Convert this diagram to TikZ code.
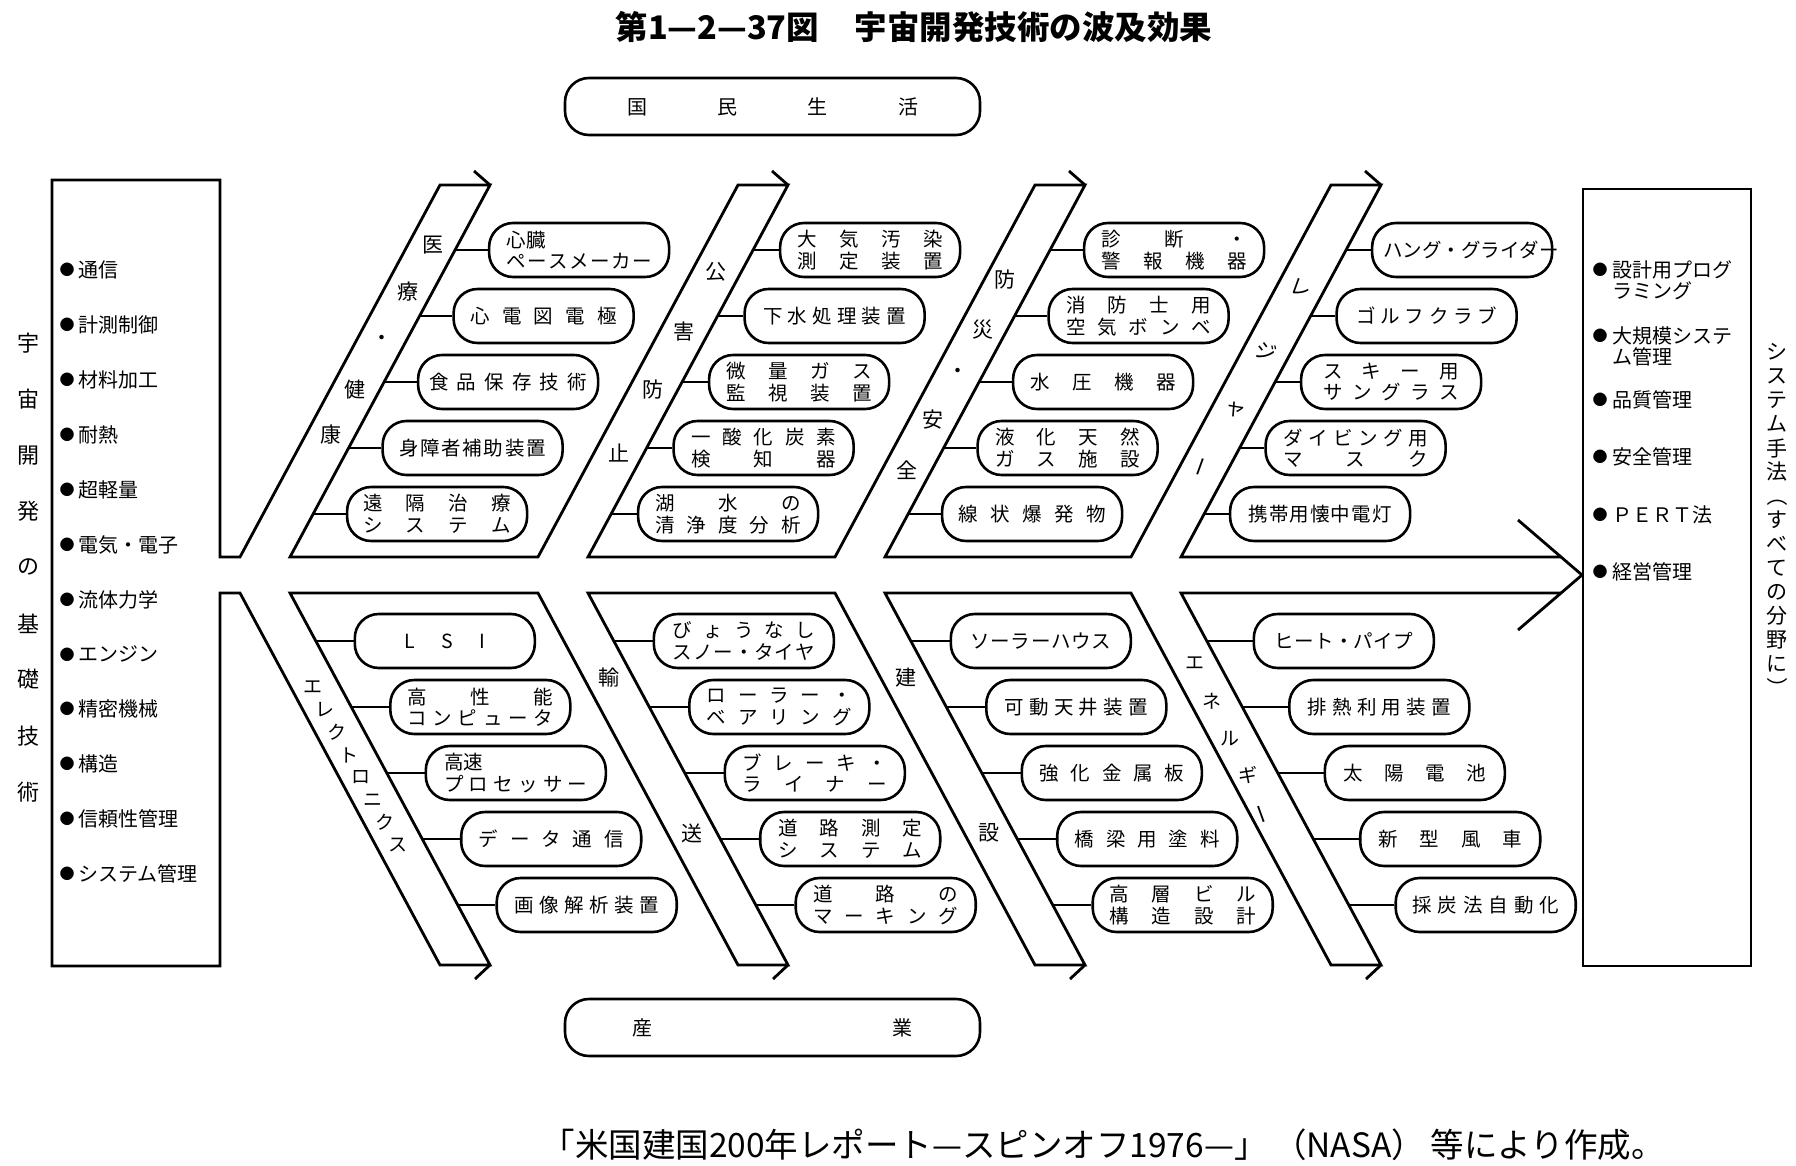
\documentclass[tikz,border=0pt]{standalone}
\usepackage{fontspec}
\setmainfont{Noto Sans CJK JP}
\makeatletter
\def\spr@in#1{\ifx#1\relax\else\hfill#1\expandafter\spr@in\fi}
\def\spr@first#1{#1\spr@in}
\newcommand\SP[2]{\makebox[#1][s]{\spr@first#2\relax}}
\makeatother
\begin{document}
\begin{tikzpicture}[x=1pt,y=-1pt]
\tikzset{
 band/.style={line width=2.8pt, line join=miter},
 itembox/.style={draw, line width=2.6pt, rounded corners=24pt, minimum width=180pt, minimum height=54pt, inner sep=0pt, align=center, font=\fontsize{19.5}{21.5}\selectfont},
 conn/.style={line width=2.6pt},
 lbl/.style={inner sep=0pt, font=\fontsize{21}{21}\selectfont},
 kl/.style={inner sep=0pt, font=\fontsize{19}{19}\selectfont},
 ku/.style={lbl, rotate=-20},
 bl/.style={inner sep=0pt, font=\fontsize{15}{15}\selectfont},
 tx/.style={anchor=west, inner sep=0pt, font=\fontsize{20}{21}\selectfont},
 vt/.style={inner sep=0pt, font=\fontsize{22}{22}\selectfont},
 pill/.style={draw, line width=2.6pt, rounded corners=24pt, minimum width=415pt, minimum height=57pt, inner sep=0pt, font=\fontsize{20}{20}\selectfont}
}
\useasboundingbox (0,0) rectangle (1796,1166);

% title
\node[inner sep=0pt, font=\bfseries\fontsize{32.5}{32.5}\selectfont] (title) at (914,27) {第1—2—37図\hspace{1.1em}宇宙開発技術の波及効果};

% top / bottom pills
\node[pill] (life) at (772.5,106.5) {\SP{291pt}{国民生活}};
\node[pill] (ind) at (772.5,1027.5) {\SP{280pt}{産業}};

% main skeleton
\draw[band] (1561,557) -- (1181,557) -- (1381,185) -- (1331,185) -- (1131,557)
 -- (885,557) -- (1085,185) -- (1035,185) -- (835,557)
 -- (588,557) -- (788,185) -- (738,185) -- (538,557)
 -- (290,557) -- (490,185) -- (440,185) -- (240,557)
 -- (220,557) -- (220,180) -- (52,180) -- (52,966) -- (220,966) -- (220,593)
 -- (240,593) -- (440,965) -- (490,965) -- (290,593)
 -- (538,593) -- (738,965) -- (788,965) -- (588,593)
 -- (835,593) -- (1035,965) -- (1085,965) -- (885,593)
 -- (1131,593) -- (1331,965) -- (1381,965) -- (1181,593) -- (1561,593);
% arrow strokes
\foreach \t in {490,788,1085,1381}{
 \draw[band] (\t,185) -- ++(-16,-14);
 \draw[band] (\t,965) -- ++(-15,14);
}
\draw[band] (1518,520) -- (1582,575) -- (1518,630);
% right box
\draw[band] (1583,189) rectangle (1751,966);

% left box contents
\foreach \c [count=\i from 0] in {宇,宙,開,発,の,基,礎,技,術}{
 \node[vt] (lv\i) at (28,343+56.1*\i) {\c};
}
\foreach \c [count=\i from 0] in {通信,計測制御,材料加工,耐熱,超軽量,電気・電子,流体力学,エンジン,精密機械,構造,信頼性管理,システム管理}{
 \node[bl] (lb\i) at (67,270+54.9*\i) {●};
 \node[tx] (lt\i) at (78,270+54.9*\i) {\c};
}

% right box contents
\node[bl] (rb1) at (1600,270) {●};
\node[tx] (rt1) at (1612,270) {設計用プログ};
\node[tx] (rt1b) at (1612,291) {ラミング};
\node[bl] (rb2) at (1600,336) {●};
\node[tx] (rt2) at (1612,336) {大規模システ};
\node[tx] (rt2b) at (1612,357) {ム管理};
\node[bl] (rb3) at (1600,400) {●};
\node[tx] (rt3) at (1612,400) {品質管理};
\node[bl] (rb4) at (1600,457) {●};
\node[tx] (rt4) at (1612,457) {安全管理};
\node[bl] (rb5) at (1600,515) {●};
\node[tx] (rt5) at (1612,515) {ＰＥＲＴ法};
\node[bl] (rb6) at (1600,572) {●};
\node[tx] (rt6) at (1612,572) {経営管理};
\foreach \c [count=\i from 0] in {シ,ス,テ,ム,手,法,{\rotatebox{-90}{（}},す,べ,て,の,分,野,に,{\rotatebox{-90}{）}}}{
 \node[inner sep=0pt, font=\fontsize{21}{21}\selectfont] (rv\i) at (1777,352+24*\i) {\c};
}

% band labels upper
\node[lbl] (l1a) at (432.7,245) {医};
\node[lbl] (l1b) at (407.5,292) {療};
\node[lbl] (l1c) at (381.7,340) {・};
\node[lbl] (l1d) at (354.8,390) {健};
\node[lbl] (l1e) at (330.6,435) {康};
\node[lbl] (l2a) at (716.2,272) {公};
\node[lbl] (l2b) at (684.0,332) {害};
\node[lbl] (l2c) at (652.8,390) {防};
\node[lbl] (l2d) at (618.9,453) {止};
\node[lbl] (l3a) at (1005,280) {防};
\node[lbl] (l3b) at (983,330) {災};
\node[lbl] (l3c) at (958,373) {・};
\node[lbl] (l3d) at (933,420) {安};
\node[lbl] (l3e) at (907,470) {全};
\node[ku] (l4a) at (1300.6,288) {レ};
\node[ku] (l4b) at (1266.2,352) {ジ};
\node[ku] (l4c) at (1235.0,410) {ャ};
\node[lbl, rotate=70] (l4d) at (1203.9,468) {ー};
% band labels lower
\foreach \c/\x/\y [count=\i] in {エ/312.5/687,レ/324.9/710,ク/336.7/732,ト/349.1/755,ロ/360.9/777,ニ/373.3/800,ク/385.1/822,ス/397.5/845}{
 \node[kl] (l5\i) at (\x,\y) {\c};
}
\node[lbl] (l6a) at (608.7,678) {輸};
\node[lbl] (l6b) at (692.0,833) {送};
\node[lbl] (l7a) at (905.7,678) {建};
\node[lbl] (l7b) at (989.0,833) {設};
\node[kl] (l8a) at (1195,663) {エ};
\node[kl] (l8b) at (1212,701) {ネ};
\node[kl] (l8c) at (1230,739) {ル};
\node[kl] (l8d) at (1248,775) {ギ};
\node[lbl, rotate=110] (l8e) at (1265,813) {ー};

% ===== band 1
\node[itembox] (n11) at (579.1,250) {\makebox[145pt][l]{心臓}\\\SP{145pt}{ペースメーカー}};
\node[itembox] (n12) at (543.6,316) {\SP{146pt}{心電図電極}};
\node[itembox] (n13) at (508.1,382) {\SP{158pt}{食品保存技術}};
\node[itembox] (n14) at (472.6,448) {\SP{146pt}{身障者補助装置}};
\node[itembox] (n15) at (437.1,514) {\SP{148pt}{遠隔治療}\\\SP{148pt}{システム}};
% ===== band 2
\node[itembox] (n21) at (870.1,250) {\SP{145pt}{大気汚染}\\\SP{145pt}{測定装置}};
\node[itembox] (n22) at (834.6,316) {\SP{143pt}{下水処理装置}};
\node[itembox] (n23) at (799.1,382) {\SP{145pt}{微量ガス}\\\SP{145pt}{監視装置}};
\node[itembox] (n24) at (763.6,448) {\SP{145pt}{一酸化炭素}\\\SP{145pt}{検知器}};
\node[itembox] (n25) at (728.1,514) {\SP{146pt}{湖水の}\\\SP{146pt}{清浄度分析}};
% ===== band 3
\node[itembox] (n31) at (1174.1,250) {\SP{145pt}{診断・}\\\SP{145pt}{警報機器}};
\node[itembox] (n32) at (1138.6,316) {\SP{145pt}{消防士用}\\\SP{145pt}{空気ボンベ}};
\node[itembox] (n33) at (1103.1,382) {\SP{146pt}{水圧機器}};
\node[itembox] (n34) at (1067.6,448) {\SP{145pt}{液化天然}\\\SP{145pt}{ガス施設}};
\node[itembox] (n35) at (1032.1,514) {\SP{147pt}{線状爆発物}};
% ===== band 4
\node[itembox] (n41) at (1462.1,250) {\SP{158pt}{ハング・グライダー}};
\node[itembox] (n42) at (1426.6,316) {\SP{141pt}{ゴルフクラブ}};
\node[itembox] (n43) at (1391.1,382) {\SP{136pt}{スキー用}\\\SP{136pt}{サングラス}};
\node[itembox] (n44) at (1355.6,448) {\SP{145pt}{ダイビング用}\\\SP{145pt}{マスク}};
\node[itembox] (n45) at (1320.1,514) {\SP{143pt}{携帯用懐中電灯}};
% ===== band 5
\node[itembox] (n51) at (444.8,641) {\SP{80pt}{LSI}};
\node[itembox] (n52) at (480.3,707) {\SP{145pt}{高性能}\\\SP{145pt}{コンピュータ}};
\node[itembox] (n53) at (515.8,773) {\makebox[143pt][l]{高速}\\\SP{143pt}{プロセッサー}};
\node[itembox] (n54) at (551.2,839) {\SP{145pt}{データ通信}};
\node[itembox] (n55) at (586.7,905) {\SP{144pt}{画像解析装置}};
% ===== band 6
\node[itembox] (n61) at (743.8,641) {\SP{142pt}{びょうなし}\\\SP{142pt}{スノー・タイヤ}};
\node[itembox] (n62) at (779.3,707) {\SP{145pt}{ローラー・}\\\SP{145pt}{ベアリング}};
\node[itembox] (n63) at (814.8,773) {\SP{145pt}{ブレーキ・}\\\SP{145pt}{ライナー}};
\node[itembox] (n64) at (850.2,839) {\SP{144pt}{道路測定}\\\SP{144pt}{システム}};
\node[itembox] (n65) at (885.7,905) {\SP{144pt}{道路の}\\\SP{144pt}{マーキング}};
% ===== band 7
\node[itembox] (n71) at (1040.8,641) {\SP{140pt}{ソーラーハウス}};
\node[itembox] (n72) at (1076.3,707) {\SP{144pt}{可動天井装置}};
\node[itembox] (n73) at (1111.8,773) {\SP{145pt}{強化金属板}};
\node[itembox] (n74) at (1147.2,839) {\SP{145pt}{橋梁用塗料}};
\node[itembox] (n75) at (1182.7,905) {\SP{147pt}{高層ビル}\\\SP{147pt}{構造設計}};
% ===== band 8
\node[itembox] (n81) at (1343.8,641) {\SP{139pt}{ヒート・パイプ}};
\node[itembox] (n82) at (1379.3,707) {\SP{143pt}{排熱利用装置}};
\node[itembox] (n83) at (1414.8,773) {\SP{143pt}{太陽電池}};
\node[itembox] (n84) at (1450.2,839) {\SP{143pt}{新型風車}};
\node[itembox] (n85) at (1485.7,905) {\SP{147pt}{採炭法自動化}};

% connectors
\foreach \b/\xa/\xb/\xc/\xd/\xe in {1/455.1/419.6/384.1/348.6/313.1, 2/753.1/717.6/682.1/646.6/611.1, 3/1050.1/1014.6/979.1/943.6/908.1, 4/1346.1/1310.6/1275.1/1239.6/1204.1}{
 \coordinate (c\b1) at (\xa,250);
 \coordinate (c\b2) at (\xb,316);
 \coordinate (c\b3) at (\xc,382);
 \coordinate (c\b4) at (\xd,448);
 \coordinate (c\b5) at (\xe,514);
 \foreach \k in {1,...,5}{\draw[conn] (c\b\k) -- (n\b\k.west);}
}
\foreach \b/\xa/\xb/\xc/\xd/\xe in {5/315.8/351.3/386.8/422.2/457.7, 6/613.8/649.3/684.8/720.2/755.7, 7/910.8/946.3/981.8/1017.2/1052.7, 8/1206.8/1242.3/1277.8/1313.2/1348.7}{
 \coordinate (c\b1) at (\xa,641);
 \coordinate (c\b2) at (\xb,707);
 \coordinate (c\b3) at (\xc,773);
 \coordinate (c\b4) at (\xd,839);
 \coordinate (c\b5) at (\xe,905);
 \foreach \k in {1,...,5}{\draw[conn] (c\b\k) -- (n\b\k.west);}
}

% footnote
\node[inner sep=0pt, font=\fontsize{33.5}{33.5}\selectfont] (note) at (1103,1145) {「米国建国200年レポート—スピンオフ1976—」\,（NASA）\,等により作成。};
\end{tikzpicture}
\end{document}
